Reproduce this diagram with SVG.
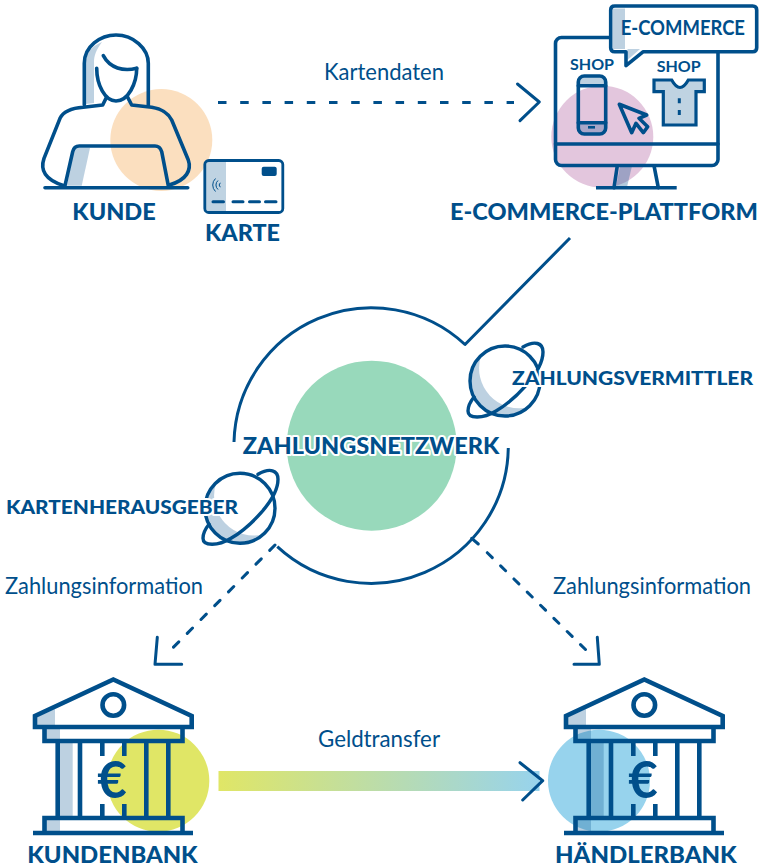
<svg xmlns="http://www.w3.org/2000/svg" width="761" height="868" viewBox="0 0 761 868">
<style>
.l{fill:none;stroke:#004f8b;stroke-width:3.600;stroke-linecap:round;stroke-linejoin:round}
.b{fill:none;stroke:#004f8b;stroke-width:4.600;stroke-linejoin:miter}
.s{fill:#004f8b;fill-opacity:.26;stroke:none}
.t{font-family:Lato,"Liberation Sans",sans-serif;font-weight:900;fill:#004f8b;font-size:22px}
.h{paint-order:stroke;stroke:#fff;stroke-width:4px;stroke-linejoin:round}
.r{font-family:Lato,"Liberation Sans",sans-serif;font-weight:400;fill:#004f8b;font-size:23px}
.d{fill:none;stroke:#004f8b;stroke-width:3;stroke-linecap:round;stroke-linejoin:round}
</style>
<defs>
<linearGradient id="g" x1="218" x2="540" y1="0" y2="0" gradientUnits="userSpaceOnUse"><stop offset="0" stop-color="#e0e666"/><stop offset="1" stop-color="#97d3ed"/></linearGradient>
<g id="planet">
<path class="s" d="M-24,-25A35,35 0 0 0 24,26A40,40 0 0 1 -24,-25Z"/>
<circle r="35" fill="none" stroke="#004f8b" stroke-width="3.400"/>
<path fill="none" stroke="#004f8b" stroke-width="3.400" stroke-linecap="round" d="M18,-34C30,-41 38,-38 38,-29C38,-8 8,20 -9,30C-22,38 -37,38 -37,30C-37,26 -35,21 -31,16"/>
</g>
<g id="bank">
<path class="s" d="M37,727V717L55,709V727ZM46,727H60V741H46ZM60,741H72.700V818H60ZM46,818H60V832H46Z"/>
<path class="b" d="M35,727V716L113.300,679.500L191.700,716V727Z"/>
<circle cx="113.300" cy="705" r="10.800" class="b"/>
<path class="b" d="M44.500,727V741H182.500V727M44.500,833V818H182.500V833M33,833H193M57.700,741V818M80,741V818M146.300,741V818M168.300,741V818M102.300,741V756M124.300,741V756M102.300,804V818M124.300,804V818"/>
<text x="112" y="797.500" text-anchor="middle" style="font-family:Lato,'Liberation Sans',sans-serif;font-size:51px;font-weight:700;fill:#004f8b">€</text>
</g>
</defs>
<rect width="761" height="868" fill="#fff"/>

<g id="connectors">
<path class="d" stroke-dasharray="8.500 13.700" style="stroke-linecap:butt" d="M218,102.500H514"/>
<path class="d" d="M517.500,84L539.300,102L520,120.700"/>
<path class="d" stroke-dasharray="7.500 12" d="M275,545L166.700,654"/>
<path class="d" d="M157.300,637.300L155,664.300H181.700"/>
<path class="d" d="M471.700,538.300L478.300,544"/>
<path class="d" stroke-dasharray="7 11.700" d="M487.300,552.700L589,653"/>
<path class="d" d="M597.300,637.300L599.300,664.300H574"/>
<rect x="218.500" y="771" width="321" height="20" fill="url(#g)"/>
<path class="d" d="M520,762.700L542.700,780.700L522.700,800"/>
</g>

<g id="zahlungsnetzwerk">
<circle cx="371.700" cy="445.700" r="85" fill="#98d9bb"/>
<path class="d" style="stroke-linecap:butt" d="M234,442A137.500,137.500 0 0 1 465,344.500L570,238"/>
<path class="d" style="stroke-linecap:butt" d="M508.300,448A137.500,137.500 0 0 1 277.300,546.700"/>
<text class="t h" x="242.700" y="454" textLength="256.600" lengthAdjust="spacingAndGlyphs">ZAHLUNGSNETZWERK</text>
</g>

<g id="zahlungsvermittler">
<use href="#planet" x="505" y="381"/>
<text class="t h" x="512" y="385" style="font-size:18px" textLength="241" lengthAdjust="spacingAndGlyphs">ZAHLUNGSVERMITTLER</text>
</g>

<g id="kartenherausgeber">
<use href="#planet" x="240" y="508.300"/>
<text class="t h" x="6" y="513.500" style="font-size:18px" textLength="232" lengthAdjust="spacingAndGlyphs">KARTENHERAUSGEBER</text>
</g>

<g id="kunde">
<circle cx="161.300" cy="140" r="51" fill="#fbdfbf"/>
<path class="s" d="M86,104V63C86,50 95,45 102,42C96,50 94,56 94,62V103Z"/>
<path class="s" d="M67,185.700L74,148H90L81.700,185.700Z"/>
<path class="l" d="M84.300,105V63.300C84.300,46.700 100,35 116,35C133.300,35 148.300,48.300 148.300,63.300V106"/>
<path class="l" d="M103.300,55.700C110,68.300 123.300,71.700 136.700,68.300"/>
<path class="l" d="M96.700,68.300C96.700,85 105,101 116,101C128.300,101 136.700,83.300 136.700,68.300"/>
<path class="l" d="M106,98.300L102.700,105L83.300,107.300C70,108.300 63.300,111.700 60,118.300L44,158.300C40,170 45,180 64,185.700"/>
<path class="l" d="M127.300,96.700L131.700,105L151.700,107.300C163.300,109.300 168.300,113.300 171.700,120L188.300,160C191.700,170 186.700,180 169.300,185"/>
<path class="l" d="M65,185.700L72.700,151.700Q74,146 79.300,146H155Q160,146 161.700,151.700L168.300,185.700"/>
<path class="l" d="M45,187.700H187.700"/>
<text class="t" x="72.300" y="219.500" textLength="83.400" lengthAdjust="spacingAndGlyphs">KUNDE</text>
</g>

<g id="karte">
<rect x="204.800" y="160.500" width="78" height="52" rx="4" fill="#fff"/>
<path d="M208,162H226V211H208Q206,211 206,209V164Q206,162 208,162Z" fill="#bfd3e2"/>
<rect x="204.800" y="160.500" width="78" height="52" rx="4" fill="none" stroke="#004f8b" stroke-width="2.800"/>
<rect x="261.700" y="166.700" width="15" height="9.300" rx="2" fill="#004f8b"/>
<path d="M213,201.700H223.500M233,201.700H243M249.500,201.700H259.500M265.500,201.700H276" fill="none" stroke="#004f8b" stroke-width="3" stroke-linecap="round"/>
<path d="M215.500,178.500A9,9 0 0 0 215.500,191.500M218,180.500A6,6 0 0 0 218,189.500M220.300,182.800A3,3 0 0 0 220.300,187.200" fill="none" stroke="#004f8b" stroke-width="1"/>
<text class="t" x="205" y="240.500" textLength="75" lengthAdjust="spacingAndGlyphs">KARTE</text>
</g>

<g id="plattform">
<circle cx="602.300" cy="136.700" r="51" fill="#e3c6dd"/>
<path class="s" d="M620,166H632L627,187H616Z" style="fill-opacity:.3"/>
<rect x="555.500" y="37.500" width="162.500" height="128" rx="6" class="l"/>
<path class="l" d="M555.500,144H718M617.300,165.700L614,187.700M654,165.700L658.300,187.700"/>
<path d="M596,187.700H676.700" fill="none" stroke="#004f8b" stroke-width="3.400"/>
<path class="s" d="M578.300,85.700V82Q578.300,76 584.300,76H599.700Q605.700,76 605.700,82V85.700ZM578.300,122.700H605.700V128Q605.700,134 599.700,134H584.300Q578.300,134 578.300,128Z"/>
<rect x="578.300" y="76" width="27.400" height="58" rx="6" class="l"/>
<path class="l" d="M578.300,85.700H605.700M578.300,122.700H605.700"/>
<path d="M588,127.300H595" stroke="#004f8b" stroke-width="2.600"/>
<path class="l" d="M619.300,104.300L631.700,132.700L636,123.300L643.300,132.700L647.700,126.700L639,118.300L646.700,115Z"/>
<path d="M654,80H671.700Q680,95 688.300,80H704.300V91.700H696V125H663.300V91.700H654Z" fill="#bfd3e2" stroke="#004f8b" stroke-width="3.200"/>
<path d="M679.300,98.300V103.300M679.300,110V115" stroke="#004f8b" stroke-width="3"/>
<path d="M626,51.700V65.700L643.300,51.700H752.700Q756.700,51.700 756.700,47.700V10Q756.700,6 752.700,6H614.700Q610.700,6 610.700,10V47.700Q610.700,51.700 614.700,51.700Z" fill="#fff"/>
<path class="s" d="M613,8.500H625V49H640L627.500,60V49H613Z"/>
<path class="l" d="M626,51.700V65.700L643.300,51.700H752.700Q756.700,51.700 756.700,47.700V10Q756.700,6 752.700,6H614.700Q610.700,6 610.700,10V47.700Q610.700,51.700 614.700,51.700Z"/>
<text class="t" x="620.700" y="35" style="font-size:20px;font-weight:700" textLength="124.300" lengthAdjust="spacingAndGlyphs">E-COMMERCE</text>
<text class="t" x="570" y="70" style="font-size:16px;font-weight:700" textLength="44" lengthAdjust="spacingAndGlyphs">SHOP</text>
<text class="t" x="656.700" y="72" style="font-size:16px;font-weight:700" textLength="44" lengthAdjust="spacingAndGlyphs">SHOP</text>
<text class="t" x="450" y="220" textLength="308" lengthAdjust="spacingAndGlyphs">E-COMMERCE-PLATTFORM</text>
</g>

<g id="kundenbank">
<circle cx="158.300" cy="780.700" r="51" fill="#e0e666"/>
<use href="#bank"/>
<text class="t" x="27.300" y="863.300" textLength="170.400" lengthAdjust="spacingAndGlyphs">KUNDENBANK</text>
</g>

<g id="haendlerbank">
<circle cx="599" cy="780.700" r="51" fill="#97d3ed"/>
<use href="#bank" x="531"/>
<text class="t" x="555" y="863.300" textLength="181.700" lengthAdjust="spacingAndGlyphs">HÄNDLERBANK</text>
</g>

<g id="labels">
<text class="r" x="324" y="80" textLength="120" lengthAdjust="spacingAndGlyphs">Kartendaten</text>
<text class="r" x="5" y="594" textLength="198" lengthAdjust="spacingAndGlyphs">Zahlungsinformation</text>
<text class="r" x="553" y="594" textLength="198" lengthAdjust="spacingAndGlyphs">Zahlungsinformation</text>
<text class="r" x="318" y="747" textLength="122" lengthAdjust="spacingAndGlyphs">Geldtransfer</text>
</g>
</svg>
